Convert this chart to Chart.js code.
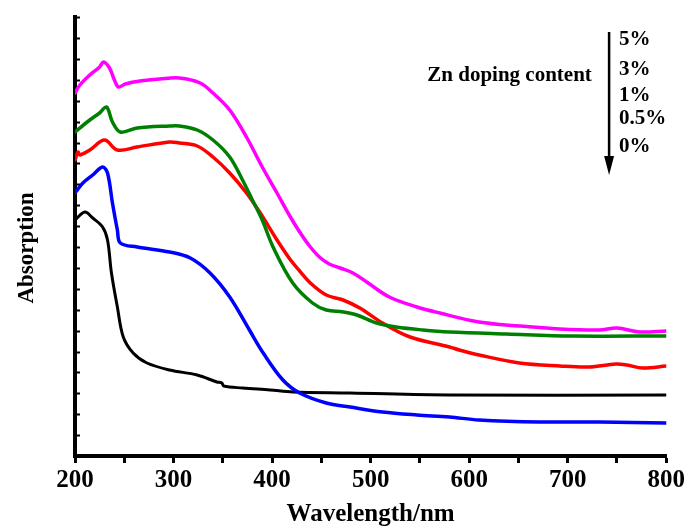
<!DOCTYPE html>
<html>
<head>
<meta charset="utf-8">
<script src="https://cdn.jsdelivr.net/npm/chart.js@4.4.1/dist/chart.umd.min.js"></script>
<style>
  html, body { margin: 0; padding: 0; background: #ffffff; }
  #wrap { width: 688px; height: 532px; position: relative; }
</style>
</head>
<body>
<div id="wrap"><canvas id="c" width="688" height="532"></canvas></div>
<script>
// ---- Data (wavelength in nm, absorption in arbitrary units) ----
const seriesLabels = ['5%', '3%', '1%', '0.5%', '0%'];

const wl5  = [200,205,215,225,229,235,240,244,251,266,286,306,327,340,357,374,390,405,418,428,438,448,458,469,482,496,519,547,570,610,651,692,732,750,773,800];
const abs5 = [3.63,3.71,3.81,3.89,3.94,3.88,3.76,3.69,3.72,3.75,3.77,3.78,3.73,3.63,3.46,3.19,2.89,2.63,2.40,2.24,2.10,1.99,1.92,1.88,1.83,1.74,1.59,1.49,1.43,1.34,1.30,1.27,1.26,1.28,1.24,1.25];

const wl3  = [200,215,225,232,238,246,263,296,306,324,340,357,370,380,390,401,421,441,455,472,486,506,526,553,580,638,705,800];
const abs3 = [3.24,3.36,3.43,3.49,3.34,3.24,3.28,3.30,3.30,3.26,3.16,2.99,2.76,2.56,2.36,2.09,1.73,1.53,1.46,1.44,1.41,1.33,1.29,1.26,1.24,1.22,1.20,1.20];

const wl1  = [200,203,205,215,230,243,263,296,306,324,340,357,374,388,405,418,428,440,455,472,489,512,540,580,590,610,651,692,722,749,760,776,800];
const abs1 = [2.96,3.04,3.01,3.06,3.16,3.06,3.09,3.14,3.13,3.10,2.99,2.83,2.63,2.43,2.16,1.97,1.85,1.72,1.61,1.56,1.48,1.33,1.19,1.09,1.06,1.01,0.93,0.90,0.89,0.92,0.91,0.88,0.90];

const wl05  = [200,208,218,228,233,238,243,246,263,296,317,337,357,377,391,411,428,455,479,512,547,580,610,671,732,800];
const abs05 = [2.63,2.73,2.81,2.89,2.83,2.53,2.26,2.13,2.09,2.04,1.98,1.83,1.59,1.26,1.03,0.76,0.63,0.53,0.49,0.44,0.41,0.39,0.36,0.34,0.34,0.33];

const wl0  = [200,210,218,228,233,237,243,249,259,273,296,324,344,349,351,370,398,421,479,580,800];
const abs0 = [2.36,2.44,2.38,2.29,2.16,1.83,1.49,1.19,1.03,0.93,0.86,0.81,0.74,0.73,0.70,0.68,0.66,0.64,0.63,0.61,0.61];

const xTickValues = [200,250,300,350,400,450,500,550,600,650,700,750,800];
const yTickValues = [0,0.209,0.418,0.627,0.836,1.045,1.254,1.463,1.672,1.881,2.09,2.299,2.508,2.717,2.926,3.135,3.344,3.553,3.762,3.971,4.18,4.389];

const FONT = '"Liberation Serif", "Times New Roman", serif';

function pts(xs, ys) { return xs.map((x, i) => ({ x: x, y: ys[i] })); }

const seriesData = [
  { label: seriesLabels[0], xs: wl5,  ys: abs5,  color: '#ff00ff', w: 3.5 },
  { label: seriesLabels[1], xs: wl3,  ys: abs3,  color: '#008000', w: 3.5 },
  { label: seriesLabels[2], xs: wl1,  ys: abs1,  color: '#ff0000', w: 3.5 },
  { label: seriesLabels[3], xs: wl05, ys: abs05, color: '#0000ff', w: 3.5 },
  { label: seriesLabels[4], xs: wl0,  ys: abs0,  color: '#000000', w: 3 }
];

// Plugin: inward y minor ticks + "Zn doping content" annotation with arrow
const decorPlugin = {
  id: 'decor',
  afterDraw(chart) {
    const ctx = chart.ctx;
    const xs = chart.scales.x, ys = chart.scales.y;
    const left = chart.chartArea.left;
    ctx.save();
    ctx.strokeStyle = '#000';
    ctx.lineWidth = 2;
    yTickValues.forEach(v => {
      const py = Math.round(ys.getPixelForValue(v)) + 0.5;
      ctx.beginPath();
      ctx.moveTo(left + 1, py);
      ctx.lineTo(left + 5, py);
      ctx.stroke();
    });
    const ann = chart.options.plugins.decor;
    ctx.fillStyle = '#000';
    ctx.font = 'bold 21px ' + FONT;
    ctx.textBaseline = 'middle';
    ctx.textAlign = 'center';
    ctx.fillText(ann.title, xs.getPixelForValue(ann.titleX), ys.getPixelForValue(ann.titleY));
    ctx.textAlign = 'left';
    ann.labels.forEach((t, i) => {
      ctx.fillText(t, xs.getPixelForValue(ann.labelX), ys.getPixelForValue(ann.labelY[i]));
    });
    const ax = xs.getPixelForValue(ann.arrowX);
    const ay1 = ys.getPixelForValue(ann.arrowTop);
    const ay2 = ys.getPixelForValue(ann.arrowTip);
    ctx.lineWidth = 2.5;
    ctx.beginPath();
    ctx.moveTo(ax, ay1);
    ctx.lineTo(ax, ay2 - 15);
    ctx.stroke();
    ctx.beginPath();
    ctx.moveTo(ax - 5, ay2 - 19);
    ctx.lineTo(ax + 5, ay2 - 19);
    ctx.lineTo(ax, ay2);
    ctx.closePath();
    ctx.fill();
    ctx.restore();
  }
};

new Chart(document.getElementById('c'), {
  type: 'line',
  data: {
    datasets: seriesData.map(s => ({
      label: s.label,
      data: pts(s.xs, s.ys),
      borderColor: s.color,
      backgroundColor: s.color,
      borderWidth: s.w,
      pointRadius: 0,
      fill: false,
      tension: 0.35,
      borderCapStyle: 'round',
      borderJoinStyle: 'round'
    }))
  },
  options: {
    responsive: false,
    animation: false,
    devicePixelRatio: 1,
    layout: { padding: { top: 17, right: 21, left: 0, bottom: 0 } },
    plugins: {
      legend: { display: false },
      tooltip: { enabled: false },
      decor: {
        title: 'Zn doping content',
        titleX: 641, titleY: 3.80,
        labels: seriesLabels,
        labelX: 752,
        labelY: [4.16, 3.86, 3.60, 3.37, 3.09],
        arrowX: 742, arrowTop: 4.24, arrowTip: 2.81
      }
    },
    scales: {
      x: {
        type: 'linear',
        min: 200, max: 800,
        afterBuildTicks: (scale) => { scale.ticks = xTickValues.map(v => ({ value: v })); },
        afterFit: (scale) => { scale.height = 76; },
        border: { display: true, color: '#000', width: 4 },
        grid: { display: true, drawOnChartArea: false, drawTicks: true, tickLength: 7, tickColor: '#000', tickWidth: 3 },
        ticks: {
          color: '#000',
          padding: 3,
          maxRotation: 0,
          autoSkip: false,
          font: { family: FONT, size: 25, weight: 'bold' },
          callback: (v) => (v % 100 === 0 ? String(v) : '')
        },
        title: {
          display: true,
          text: 'Wavelength/nm',
          color: '#000',
          font: { family: FONT, size: 25, weight: 'bold' },
          padding: { top: 0, bottom: 2 }
        }
      },
      y: {
        type: 'linear',
        min: 0, max: 4.39,
        afterFit: (scale) => { scale.width = 75; },
        border: { display: true, color: '#000', width: 4 },
        grid: { display: false, drawTicks: false },
        ticks: { display: false },
        title: {
          display: true,
          text: 'Absorption\u00A0\u00A0\u00A0\u00A0',
          color: '#000',
          font: { family: FONT, size: 23, weight: 'bold' },
          padding: { top: 13, bottom: 0 }
        }
      }
    }
  },
  plugins: [decorPlugin]
});
</script>
</body>
</html>
